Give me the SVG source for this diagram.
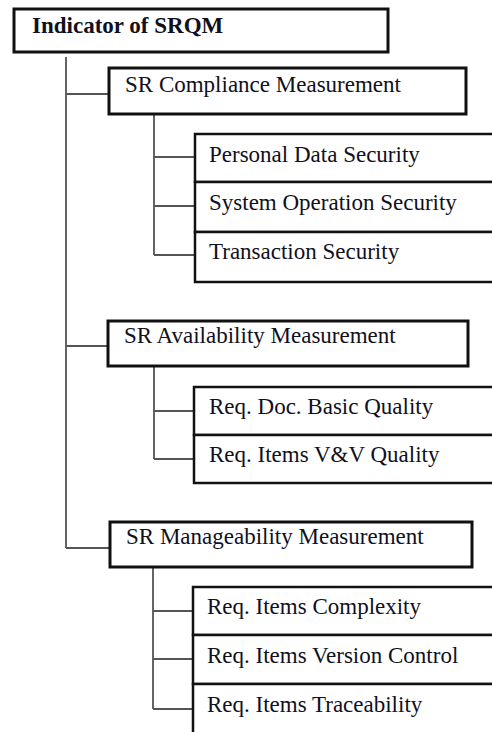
<svg xmlns="http://www.w3.org/2000/svg" width="492" height="732" viewBox="0 0 492 732">
<style>
.box{fill:#fff;stroke:#111;stroke-width:3}
.cell{fill:#fff;stroke:#111;stroke-width:2.5}
.t{font-family:"Liberation Serif","Times New Roman",serif;font-size:23px;fill:#101020}
.b{font-weight:bold}
.c{fill:none;stroke:#555;stroke-width:1.8}
</style>
<rect width="492" height="732" fill="#fff"/>
<g id="connectors">
<path class="c" d="M66 57V548M66 94H109M66 346H108M66 548H110"/>
<path class="c" d="M154 114V255M154 157H195M154 206H195M154 255H195"/>
<path class="c" d="M154 366V459M154 411H194M154 459H194"/>
<path class="c" d="M153 567V709M153 611H193M153 659H193M153 709H193"/>
</g>
<g id="root"><rect class="box" x="14" y="9" width="374" height="43"/><text class="t b" x="32" y="33">Indicator of SRQM</text></g>
<g id="compliance"><rect class="box" x="109" y="68" width="357" height="46"/><text class="t" x="125" y="92">SR Compliance Measurement</text></g>
<g id="personal"><rect class="cell" x="195" y="134" width="320" height="48"/><text class="t" x="209" y="162">Personal Data Security</text></g>
<g id="sysop"><rect class="cell" x="195" y="182" width="320" height="50"/><text class="t" x="209" y="210">System Operation Security</text></g>
<g id="transaction"><rect class="cell" x="195" y="232" width="320" height="50"/><text class="t" x="209" y="259">Transaction Security</text></g>
<g id="availability"><rect class="box" x="108" y="321" width="360" height="45"/><text class="t" x="124" y="343">SR Availability Measurement</text></g>
<g id="docbasic"><rect class="cell" x="194" y="387" width="320" height="48"/><text class="t" x="209" y="414">Req. Doc. Basic Quality</text></g>
<g id="vv"><rect class="cell" x="194" y="435" width="320" height="48"/><text class="t" x="209" y="462">Req. Items V&amp;V Quality</text></g>
<g id="manageability"><rect class="box" x="110" y="522" width="362" height="45"/><text class="t" x="126" y="544">SR Manageability Measurement</text></g>
<g id="complexity"><rect class="cell" x="193" y="587" width="320" height="48"/><text class="t" x="207" y="614">Req. Items Complexity</text></g>
<g id="version"><rect class="cell" x="193" y="635" width="320" height="49"/><text class="t" x="207" y="663">Req. Items Version Control</text></g>
<g id="traceability"><rect class="cell" x="193" y="684" width="320" height="60"/><text class="t" x="207" y="712">Req. Items Traceability</text></g>
</svg>
